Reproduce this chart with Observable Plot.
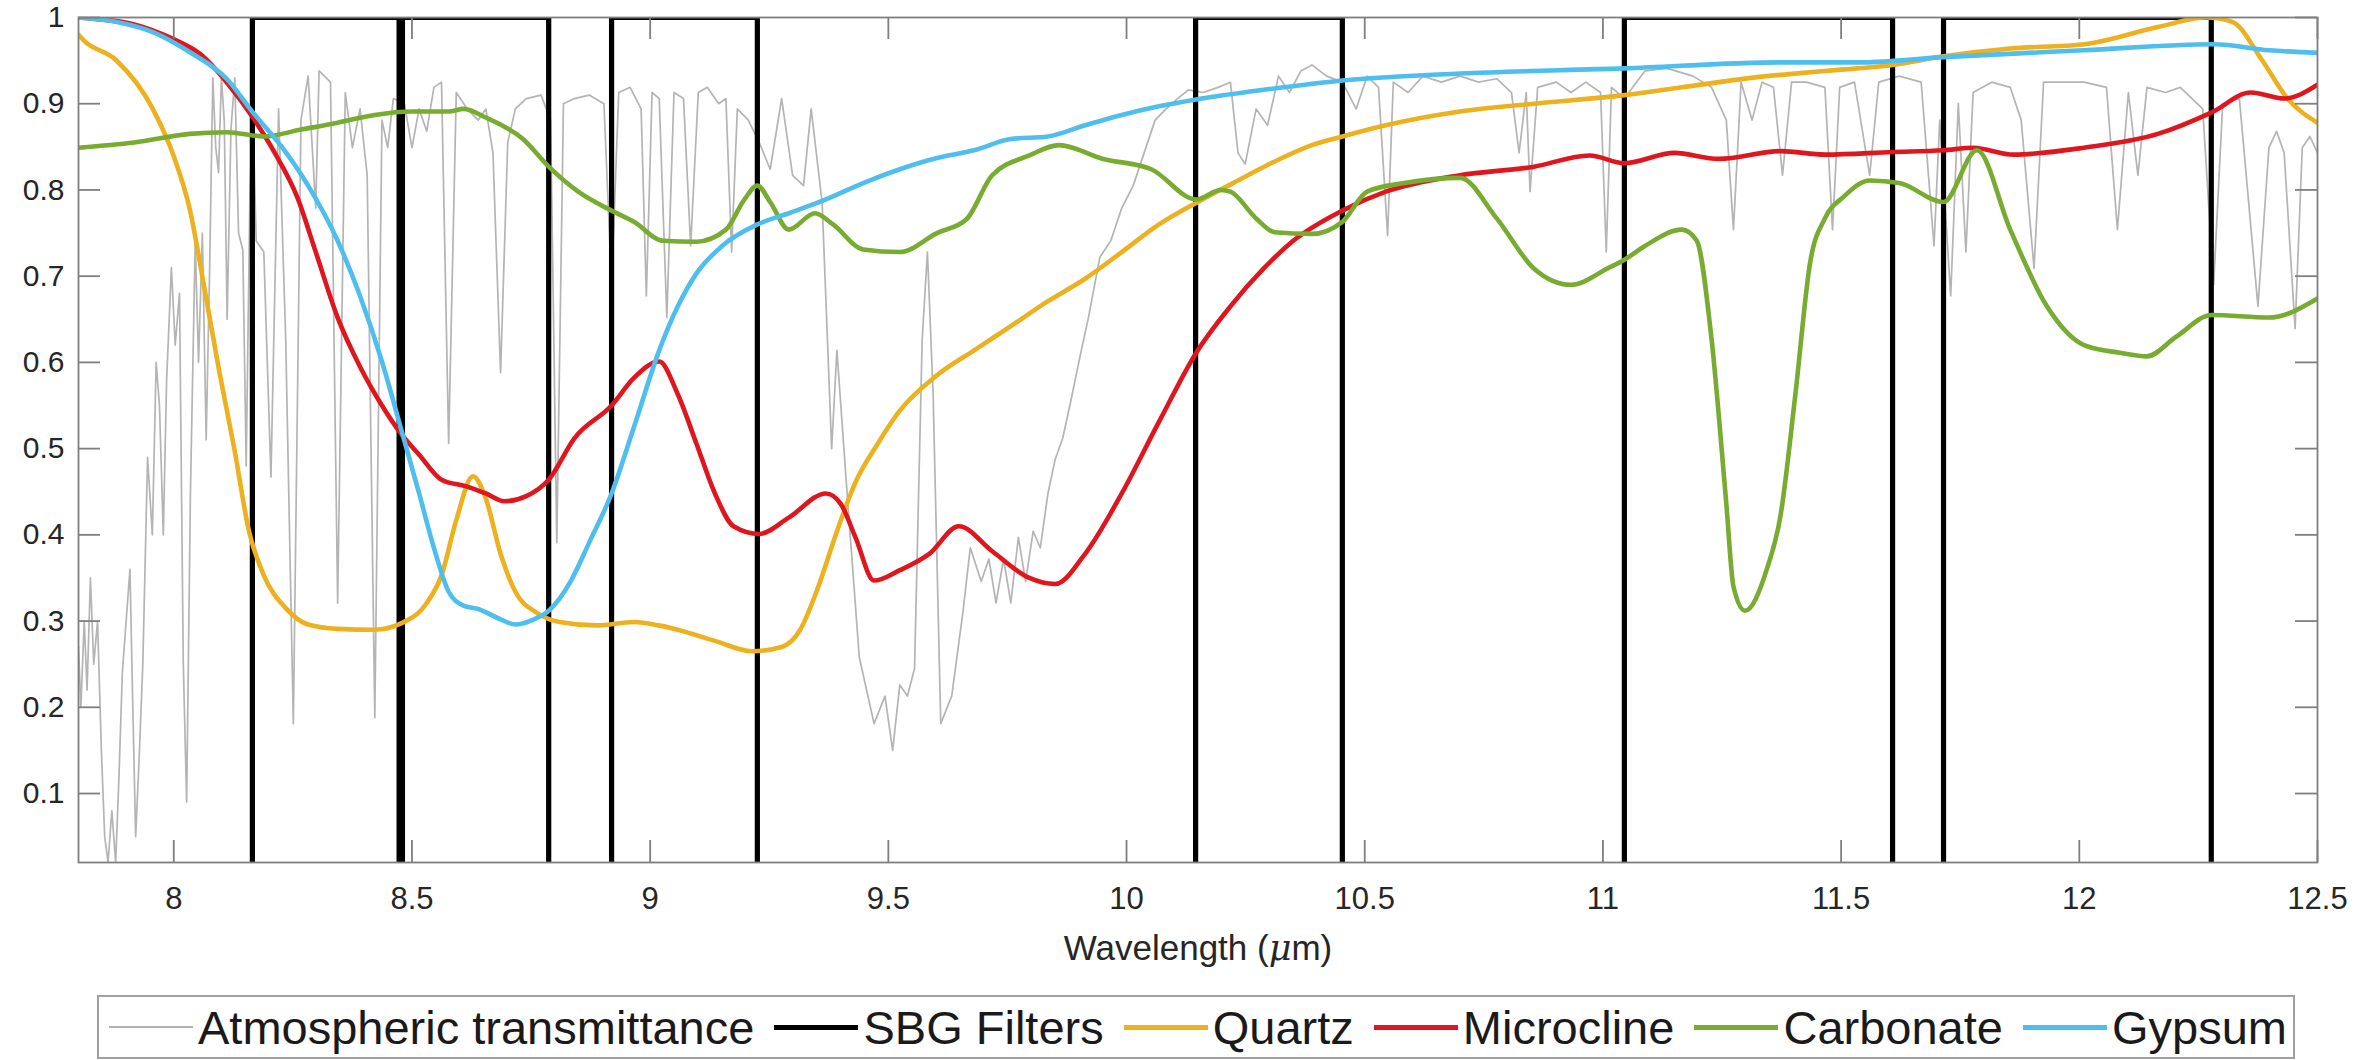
<!DOCTYPE html>
<html>
<head>
<meta charset="utf-8">
<script src="https://cdn.jsdelivr.net/npm/d3@7"></script>
<script src="https://cdn.jsdelivr.net/npm/@observablehq/plot@0.6"></script>
<style>
  html, body { margin: 0; padding: 0; background: #fff; }
  body { width: 2379px; height: 1060px; overflow: hidden; font-family: "Liberation Sans", Arial, sans-serif; color: #1a1a1a; }
  #legend { position: relative; margin-left: 97px; margin-top: 5px; width: 2198px; height: 64px; border: 2px solid #a0a0a0; box-sizing: border-box;
            display: flex; align-items: center; justify-content: space-between; padding: 0 6px 0 10px; font-size: 47px; }
  .item { display: flex; align-items: center; white-space: nowrap; }
  .sw { width: 84px; margin-right: 5px; }
</style>
</head>
<body>
<div id="chart"></div>
<div id="legend"></div>
<script>
// ---- data ----
const xTicks = [8, 8.5, 9, 9.5, 10, 10.5, 11, 11.5, 12, 12.5];
const yTicks = [0.1, 0.2, 0.3, 0.4, 0.5, 0.6, 0.7, 0.8, 0.9, 1];
const seriesNames = ["Atmospheric transmittance", "SBG Filters", "Quartz", "Microcline", "Carbonate", "Gypsum"];
const seriesColors = ["#b4b4b4", "#000000", "#EDB120", "#E0161E", "#77AC30", "#4DBEEE"];

const filterStart = [8.165, 8.480, 8.919, 10.145, 11.045, 11.715];
const filterEnd   = [8.473, 8.787, 9.225, 10.453, 11.608, 12.277];

const atmosphere = [
[7.800,0.27],[7.805,0.20],[7.812,0.30],[7.818,0.22],[7.825,0.35],[7.832,0.25],[7.840,0.30],[7.848,0.15],[7.855,0.05],[7.862,0.02],[7.870,0.08],[7.878,0.02],[7.885,0.12],[7.892,0.24],[7.900,0.30],[7.908,0.36],[7.914,0.20],[7.920,0.05],[7.928,0.15],[7.935,0.25],[7.945,0.49],[7.955,0.40],[7.963,0.60],[7.970,0.55],[7.978,0.40],[7.985,0.58],[7.995,0.71],[8.003,0.62],[8.012,0.68],[8.020,0.25],[8.027,0.09],[8.035,0.45],[8.045,0.74],[8.052,0.60],[8.060,0.75],[8.068,0.51],[8.075,0.70],[8.082,0.93],[8.088,0.85],[8.094,0.82],[8.100,0.93],[8.106,0.88],[8.112,0.65],[8.120,0.87],[8.128,0.93],[8.136,0.75],[8.145,0.73],[8.152,0.48],[8.160,0.80],[8.166,0.89],[8.173,0.741],[8.189,0.728],[8.204,0.467],[8.22,0.894],[8.235,0.626],[8.251,0.181],[8.267,0.881],[8.282,0.932],[8.298,0.779],[8.305,0.938],[8.329,0.925],[8.344,0.321],[8.36,0.913],[8.375,0.849],[8.391,0.894],[8.406,0.817],[8.422,0.188],[8.437,0.881],[8.449,0.849],[8.461,0.906],[8.484,0.90],[8.5,0.849],[8.515,0.894],[8.531,0.868],[8.546,0.919],[8.562,0.925],[8.577,0.506],[8.593,0.913],[8.616,0.894],[8.639,0.881],[8.655,0.894],[8.67,0.843],[8.686,0.588],[8.701,0.855],[8.717,0.894],[8.74,0.906],[8.771,0.91],[8.791,0.881],[8.804,0.391],[8.818,0.90],[8.841,0.906],[8.872,0.91],[8.903,0.90],[8.919,0.69],[8.934,0.913],[8.958,0.919],[8.981,0.894],[8.992,0.677],[9.004,0.913],[9.019,0.906],[9.035,0.652],[9.05,0.913],[9.07,0.906],[9.085,0.735],[9.101,0.913],[9.12,0.919],[9.144,0.90],[9.159,0.906],[9.171,0.728],[9.183,0.894],[9.206,0.881],[9.229,0.855],[9.252,0.824],[9.276,0.906],[9.299,0.817],[9.322,0.805],[9.338,0.894],[9.361,0.785],[9.381,0.50],[9.392,0.614],[9.415,0.436],[9.439,0.258],[9.47,0.181],[9.493,0.213],[9.509,0.15],[9.524,0.226],[9.54,0.213],[9.555,0.245],[9.571,0.626],[9.582,0.728],[9.594,0.563],[9.61,0.181],[9.633,0.213],[9.656,0.308],[9.672,0.385],[9.695,0.346],[9.711,0.372],[9.726,0.321],[9.742,0.372],[9.757,0.321],[9.773,0.397],[9.788,0.346],[9.804,0.404],[9.819,0.385],[9.835,0.448],[9.85,0.487],[9.866,0.512],[9.881,0.55],[9.905,0.614],[9.92,0.652],[9.944,0.722],[9.967,0.741],[9.99,0.779],[10.014,0.805],[10.037,0.843],[10.06,0.881],[10.083,0.894],[10.107,0.906],[10.13,0.916],[10.161,0.913],[10.192,0.919],[10.218,0.925],[10.234,0.843],[10.249,0.83],[10.272,0.894],[10.296,0.875],[10.319,0.932],[10.342,0.913],[10.366,0.938],[10.389,0.945],[10.42,0.932],[10.453,0.925],[10.482,0.894],[10.505,0.932],[10.529,0.919],[10.548,0.747],[10.56,0.925],[10.591,0.913],[10.622,0.932],[10.661,0.925],[10.70,0.932],[10.739,0.925],[10.777,0.929],[10.808,0.913],[10.824,0.843],[10.839,0.913],[10.847,0.798],[10.863,0.919],[10.902,0.925],[10.933,0.913],[10.964,0.925],[10.995,0.913],[11.007,0.728],[11.018,0.919],[11.045,0.906],[11.088,0.938],[11.135,0.941],[11.189,0.932],[11.228,0.919],[11.259,0.881],[11.274,0.754],[11.29,0.925],[11.313,0.881],[11.334,0.925],[11.358,0.919],[11.377,0.817],[11.396,0.925],[11.427,0.925],[11.466,0.919],[11.482,0.754],[11.497,0.919],[11.528,0.925],[11.56,0.817],[11.579,0.925],[11.622,0.932],[11.668,0.925],[11.695,0.735],[11.707,0.881],[11.73,0.677],[11.746,0.90],[11.762,0.728],[11.777,0.913],[11.816,0.925],[11.855,0.919],[11.878,0.881],[11.905,0.709],[11.925,0.925],[11.971,0.925],[12.01,0.925],[12.057,0.919],[12.08,0.754],[12.103,0.913],[12.123,0.817],[12.142,0.919],[12.181,0.913],[12.212,0.919],[12.259,0.894],[12.282,0.69],[12.301,0.90],[12.336,0.906],[12.375,0.665],[12.398,0.849],[12.414,0.868],[12.43,0.843],[12.453,0.639],[12.468,0.849],[12.484,0.862],[12.5,0.843]
];

const quartz = [
[7.80,0.98],[7.812,0.973],[7.878,0.951],[7.956,0.894],[8.002,0.836],[8.033,0.779],[8.065,0.684],[8.096,0.588],[8.127,0.50],[8.158,0.404],[8.189,0.353],[8.235,0.315],[8.282,0.296],[8.344,0.291],[8.422,0.29],[8.476,0.297],[8.531,0.321],[8.562,0.353],[8.593,0.417],[8.628,0.468],[8.655,0.442],[8.686,0.378],[8.717,0.334],[8.764,0.309],[8.81,0.299],[8.888,0.295],[8.966,0.299],[9.018,0.295],[9.058,0.29],[9.136,0.277],[9.214,0.265],[9.276,0.27],[9.315,0.29],[9.353,0.34],[9.392,0.404],[9.431,0.461],[9.478,0.506],[9.524,0.544],[9.602,0.585],[9.68,0.614],[9.757,0.642],[9.835,0.671],[9.913,0.697],[9.99,0.728],[10.068,0.76],[10.146,0.785],[10.234,0.811],[10.311,0.833],[10.389,0.852],[10.453,0.862],[10.544,0.875],[10.70,0.891],[10.855,0.90],[11.045,0.91],[11.166,0.919],[11.311,0.93],[11.466,0.938],[11.608,0.945],[11.715,0.955],[11.855,0.964],[12.01,0.969],[12.165,0.989],[12.266,1.0],[12.321,0.995],[12.383,0.951],[12.437,0.906],[12.5,0.878]
];

const microcline = [
[7.80,1.0],[7.824,0.999],[7.917,0.992],[7.995,0.976],[8.057,0.957],[8.111,0.925],[8.166,0.884],[8.212,0.843],[8.259,0.792],[8.298,0.728],[8.344,0.652],[8.391,0.595],[8.437,0.55],[8.476,0.518],[8.515,0.493],[8.562,0.464],[8.616,0.456],[8.655,0.448],[8.694,0.439],[8.74,0.445],[8.787,0.464],[8.841,0.512],[8.919,0.55],[8.966,0.582],[9.019,0.601],[9.058,0.563],[9.097,0.506],[9.136,0.448],[9.175,0.41],[9.229,0.401],[9.291,0.42],[9.369,0.448],[9.40,0.436],[9.431,0.397],[9.47,0.347],[9.524,0.359],[9.586,0.378],[9.648,0.41],[9.718,0.381],[9.796,0.35],[9.85,0.343],[9.913,0.378],[9.99,0.448],[10.068,0.531],[10.146,0.611],[10.218,0.665],[10.288,0.709],[10.35,0.741],[10.453,0.776],[10.544,0.798],[10.70,0.817],[10.855,0.827],[10.972,0.84],[11.045,0.831],[11.15,0.843],[11.243,0.836],[11.374,0.845],[11.466,0.841],[11.608,0.844],[11.715,0.846],[11.777,0.849],[11.862,0.841],[12.01,0.849],[12.165,0.865],[12.278,0.89],[12.36,0.913],[12.43,0.906],[12.5,0.922]
];

const carbonate = [
[7.80,0.849],[7.917,0.855],[8.033,0.865],[8.111,0.867],[8.189,0.862],[8.267,0.87],[8.344,0.878],[8.422,0.887],[8.50,0.891],[8.577,0.891],[8.608,0.894],[8.655,0.884],[8.733,0.859],[8.787,0.827],[8.849,0.798],[8.919,0.776],[8.966,0.763],[9.027,0.741],[9.097,0.74],[9.159,0.754],[9.198,0.789],[9.225,0.805],[9.252,0.786],[9.291,0.754],[9.346,0.773],[9.384,0.76],[9.447,0.731],[9.524,0.728],[9.602,0.75],[9.664,0.766],[9.718,0.817],[9.796,0.84],[9.858,0.852],[9.951,0.836],[10.052,0.824],[10.146,0.789],[10.198,0.80],[10.218,0.798],[10.272,0.767],[10.311,0.751],[10.389,0.749],[10.453,0.763],[10.505,0.798],[10.583,0.808],[10.70,0.814],[10.777,0.767],[10.855,0.709],[10.933,0.69],[11.01,0.709],[11.045,0.719],[11.088,0.735],[11.166,0.754],[11.197,0.741],[11.228,0.627],[11.259,0.436],[11.274,0.34],[11.298,0.312],[11.344,0.36],[11.373,0.423],[11.404,0.563],[11.435,0.716],[11.466,0.767],[11.505,0.792],[11.56,0.811],[11.622,0.808],[11.715,0.786],[11.785,0.846],[11.855,0.754],[11.932,0.665],[12.01,0.62],[12.088,0.611],[12.142,0.607],[12.204,0.63],[12.278,0.655],[12.398,0.652],[12.5,0.674]
];

const gypsum = [
[7.80,1.0],[7.878,0.995],[7.956,0.983],[8.033,0.96],[8.111,0.929],[8.166,0.89],[8.228,0.849],[8.282,0.805],[8.344,0.741],[8.391,0.677],[8.437,0.601],[8.476,0.525],[8.515,0.448],[8.546,0.385],[8.577,0.334],[8.608,0.318],[8.639,0.314],[8.686,0.302],[8.717,0.296],[8.756,0.302],[8.787,0.312],[8.834,0.347],[8.872,0.391],[8.919,0.448],[8.966,0.525],[9.019,0.614],[9.058,0.665],[9.097,0.703],[9.151,0.735],[9.225,0.76],[9.291,0.773],[9.369,0.789],[9.447,0.808],[9.524,0.824],[9.602,0.837],[9.68,0.846],[9.757,0.859],[9.835,0.862],[9.913,0.875],[9.99,0.887],[10.068,0.897],[10.146,0.905],[10.30,0.917],[10.453,0.927],[10.70,0.935],[11.045,0.941],[11.374,0.948],[11.544,0.948],[11.715,0.954],[12.01,0.962],[12.282,0.969],[12.398,0.962],[12.5,0.959]
];

// ---- build filter step line from edges ----
const filters = [];
filterStart.forEach((a, i) => {
  const b = filterEnd[i];
  filters.push([a, 0], [a, 1], [b, 1], [b, 0]);
});

const W = 2379, H = 990;
const mL = 78, mR = 62, mT = 17, mB = 128;
const pw = W - mL - mR, ph = H - mT - mB;
const axisColor = "#7f7f7f";
const tickLen = 22;

const smooth = (data, color, width) => Plot.line(data, {x: d => d[0], y: d => d[1], stroke: color, strokeWidth: width, curve: "monotone-x", clip: true});

const chart = Plot.plot({
  width: W, height: H,
  marginLeft: mL, marginRight: mR, marginTop: mT, marginBottom: mB,
  style: {fontFamily: "'Liberation Sans', Arial, sans-serif", color: "#262626", background: "#fff"},
  x: {domain: [7.8, 12.5]},
  y: {domain: [0.02, 1]},
  marks: [
    Plot.line(atmosphere, {x: d => d[0], y: d => d[1], stroke: seriesColors[0], strokeWidth: 1.7, clip: true}),
    Plot.line(filters, {x: d => d[0], y: d => d[1], stroke: seriesColors[1], strokeWidth: 5.2, clip: true}),
    smooth(quartz, seriesColors[2], 4.6),
    smooth(microcline, seriesColors[3], 4.6),
    smooth(carbonate, seriesColors[4], 4.6),
    smooth(gypsum, seriesColors[5], 4.6),
    Plot.frame({stroke: axisColor, strokeWidth: 1.8}),
    Plot.tickX(xTicks, {x: d => d, insetTop: ph - tickLen, stroke: axisColor, strokeWidth: 1.8}),
    Plot.tickX(xTicks, {x: d => d, insetBottom: ph - tickLen, stroke: axisColor, strokeWidth: 1.8}),
    Plot.tickY(yTicks, {y: d => d, insetRight: pw - tickLen, stroke: axisColor, strokeWidth: 1.8}),
    Plot.tickY(yTicks, {y: d => d, insetLeft: pw - tickLen, stroke: axisColor, strokeWidth: 1.8}),
    Plot.axisX({ticks: xTicks, tickSize: 0, tickPadding: 24, fontSize: 31, tickFormat: d => String(d), label: null}),
    Plot.axisY({ticks: yTicks, tickSize: 0, tickPadding: 14, fontSize: 30, tickFormat: d => String(d), label: null}),
    Plot.text(["Wavelength (\u03bcm)"], {frameAnchor: "bottom", dy: 97, fontSize: 35, fill: "#262626"})
  ]
});
document.getElementById("chart").appendChild(chart);

// italic mu in the axis label, as in the TeX-rendered original
d3.select(chart).selectAll("text").each(function() {
  if (this.textContent === "Wavelength (\u03bcm)") {
    const t = d3.select(this);
    t.text(null);
    t.append("tspan").text("Wavelength (");
    t.append("tspan").attr("font-style", "italic").attr("font-family", "'DejaVu Serif', serif").text("\u03bc");
    t.append("tspan").text("m)");
  }
});

// ---- legend ----
const legend = document.getElementById("legend");
seriesNames.forEach((name, i) => {
  const item = document.createElement("div");
  item.className = "item";
  const sw = document.createElement("div");
  sw.className = "sw";
  sw.style.height = (i === 0 ? 2 : 5) + "px";
  sw.style.background = seriesColors[i];
  const t = document.createElement("span");
  t.textContent = name;
  item.appendChild(sw);
  item.appendChild(t);
  legend.appendChild(item);
});
</script>
</body>
</html>
